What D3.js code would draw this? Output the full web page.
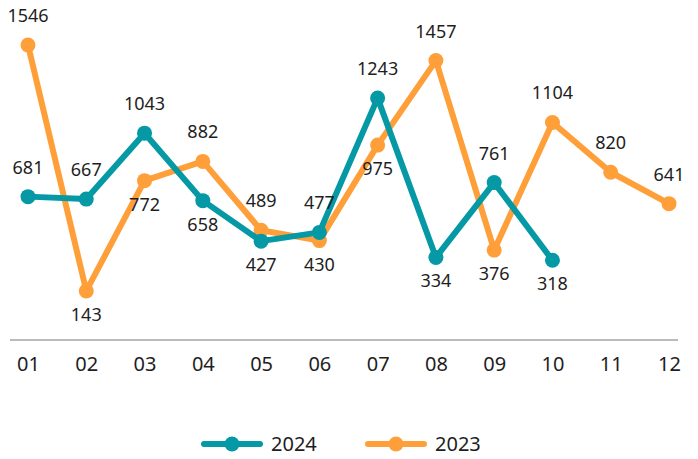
<!DOCTYPE html>
<html>
<head>
<meta charset="utf-8">
<script src="https://cdn.jsdelivr.net/npm/d3@7"></script>
<style>
  html, body { margin: 0; padding: 0; background: #fff; }
  svg { display: block; font-family: "Noto Sans", sans-serif; }
</style>
</head>
<body>
<div id="chart"></div>
<script>
// data
const months = ["01", "02", "03", "04", "05", "06", "07", "08", "09", "10", "11", "12"];
const values2024 = [681, 667, 1043, 658, 427, 477, 1243, 334, 761, 318];
const values2023 = [1546, 143, 772, 882, 489, 430, 975, 1457, 376, 1104, 820, 641];
// label placement: 1 = above the point, -1 = below
const side2024 = [1, 1, 1, -1, -1, 1, 1, -1, 1, -1];
const side2023 = [1, -1, -1, 1, 1, -1, -1, 1, -1, 1, 1, 1];

const width = 698, height = 459;
const teal = "#0599a5", orange = "#ff9f3a";

const svg = d3.select("#chart").append("svg")
  .attr("width", width)
  .attr("height", height);

const x = d3.scalePoint().domain(months).range([28, 669]);
const y = d3.scaleLinear().domain([0, 1546]).range([316, 45]);

// baseline + month labels
const axisY = 340;
svg.append("line")
  .attr("x1", 10).attr("x2", 678)
  .attr("y1", axisY).attr("y2", axisY)
  .attr("stroke", "#777").attr("stroke-width", 1);

const xAxis = svg.append("g")
  .attr("transform", `translate(0,${axisY})`)
  .call(d3.axisBottom(x).tickSize(0).tickPadding(17));
xAxis.select(".domain").remove();
xAxis.selectAll("text")
  .attr("font-family", "Noto Sans, sans-serif")
  .attr("font-size", 20)
  .attr("fill", "#1e1e1e");

function drawSeries(values, sides, color) {
  const pts = values.map((v, i) => ({ m: months[i], v, s: sides[i] }));
  const line = d3.line().x(d => x(d.m)).y(d => y(d.v));

  svg.append("path")
    .datum(pts)
    .attr("fill", "none")
    .attr("stroke", color)
    .attr("stroke-width", 6)
    .attr("stroke-linejoin", "round")
    .attr("d", line);

  svg.selectAll(null)
    .data(pts)
    .enter()
    .append("circle")
    .attr("cx", d => x(d.m))
    .attr("cy", d => y(d.v))
    .attr("r", 7.5)
    .attr("fill", color);

  return pts;
}

const p2023 = drawSeries(values2023, side2023, orange);
const p2024 = drawSeries(values2024, side2024, teal);

// value labels
svg.selectAll(null)
  .data(p2023.concat(p2024))
  .enter()
  .append("text")
  .attr("x", d => x(d.m))
  .attr("y", d => y(d.v) + (d.s > 0 ? -23 : 30))
  .attr("text-anchor", "middle")
  .attr("font-size", 18)
  .attr("fill", "#1e1e1e")
  .text(d => d.v);

// legend
const legend = [
  { name: "2024", color: teal, x: 204 },
  { name: "2023", color: orange, x: 368 }
];
const lg = svg.selectAll(".legend")
  .data(legend)
  .enter()
  .append("g")
  .attr("transform", d => `translate(${d.x},444)`);
lg.append("line")
  .attr("x1", 0).attr("x2", 56)
  .attr("stroke", d => d.color)
  .attr("stroke-width", 6)
  .attr("stroke-linecap", "round");
lg.append("circle")
  .attr("cx", 28).attr("r", 7.5)
  .attr("fill", d => d.color);
lg.append("text")
  .attr("x", 67).attr("y", 7)
  .attr("font-size", 20)
  .attr("fill", "#1e1e1e")
  .text(d => d.name);
</script>
</body>
</html>
